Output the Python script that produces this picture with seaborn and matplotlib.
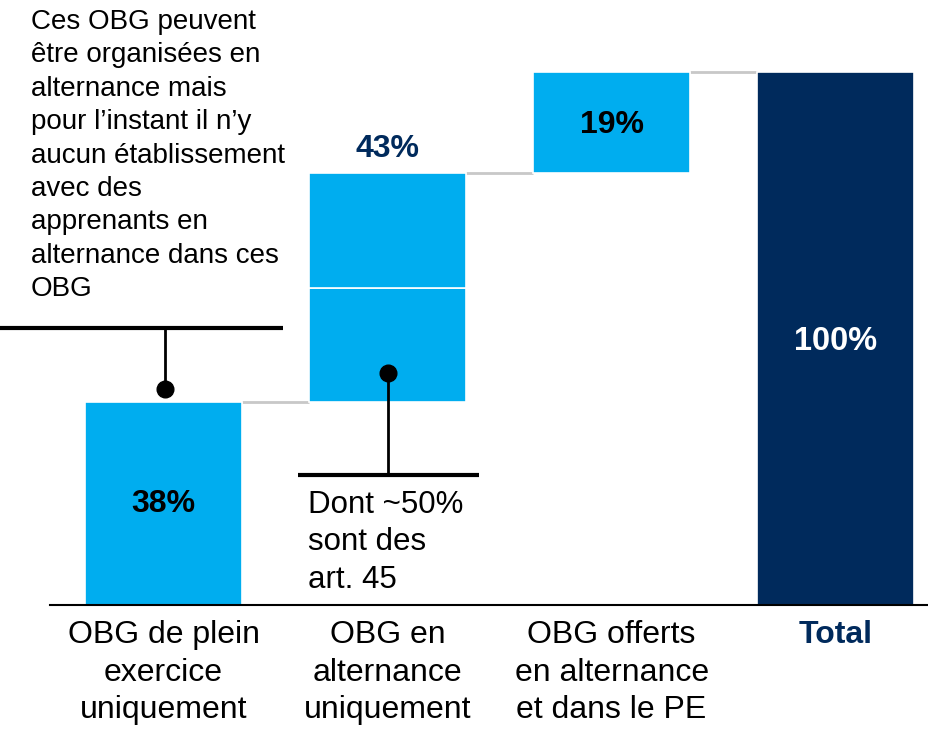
import matplotlib
matplotlib.use("Agg")
import matplotlib.pyplot as plt
import seaborn as sns
import pandas as pd

sns.set_style("white")
plt.rcParams['font.family'] = ['Liberation Sans', 'DejaVu Sans']
plt.rcParams['text.color'] = 'black'
plt.rcParams['xtick.color'] = 'black'

# ---- data ----
categories = ["OBG de plein\nexercice\nuniquement", "OBG en\nalternance\nuniquement",
              "OBG offerts\nen alternance\net dans le PE", "Total"]
values = [38, 43, 19, 100]
value_labels = ["38%", "43%", "19%", "100%"]
split_alternance = 21.5   # lower part of the 43% bar (art. 45 share)
note_left = ("Ces OBG peuvent\nêtre organisées en\nalternance mais\npour l’instant il n’y\n"
             "aucun établissement\navec des\napprenants en\nalternance dans ces\nOBG")
note_mid = "Dont ~50%\nsont des\nart. 45"

light = "#00ADEF"
navy = "#002A5C"
grey = "#C8C8C8"

fig = plt.figure(figsize=(9.29, 7.30), dpi=100)
ax = fig.add_axes([50/929, 1-605/730, 1-50/929, 605/730])

bases = [0, values[0], values[0] + values[1], 0]
segments = [
    (categories[0], values[0], bases[0], light),
    (categories[1], split_alternance, bases[1], light),
    (categories[1], values[1] - split_alternance, bases[1] + split_alternance, light),
    (categories[2], values[2], bases[2], light),
    (categories[3], values[3], bases[3], navy),
]
W = 0.70
for cat, h, b, c in segments:
    df = pd.DataFrame({"cat": [cat], "val": [h]})
    sns.barplot(data=df, x="cat", y="val", order=categories, bottom=b, color=c,
                width=W, saturation=1, edgecolor="white", linewidth=1.2, ax=ax, zorder=2)

# connectors
tops = [bases[i] + values[i] for i in range(3)]
for i, t in enumerate(tops):
    ax.plot([i + W/2, i + 1 - W/2], [t, t], color=grey, lw=2, zorder=1, solid_capstyle="butt")

ax.set_xlim(-0.507, 3.417)
ax.set_ylim(0, 113.5)
ax.set_xlabel("")
ax.set_ylabel("")
ax.set_yticks([])
for s in ["top", "right", "left"]:
    ax.spines[s].set_visible(False)
ax.spines["bottom"].set_color("black")
ax.spines["bottom"].set_linewidth(1.5)
ax.tick_params(axis="x", length=0, pad=11)
ax.set_xticks(range(4))
ax.set_xticklabels(categories, fontsize=23, linespacing=1.33, va="top", color="black")
tl = ax.get_xticklabels()
tl[3].set_fontweight("bold")
tl[3].set_color(navy)

# value labels
fs = 23
ax.text(0, 19, value_labels[0], ha="center", va="center", fontsize=fs, fontweight="bold", color="black")
ax.text(1, 85.5, value_labels[1], ha="center", va="center", fontsize=fs, fontweight="bold", color=navy)
ax.text(2, 90, value_labels[2], ha="center", va="center", fontsize=fs, fontweight="bold", color="black")
ax.text(3, 49.5, value_labels[3], ha="center", va="center", fontsize=fs + 0.5, fontweight="bold", color="white")

# annotation 1
ax.plot([-0.73, 0.533], [52, 52], color="black", lw=3, clip_on=False, zorder=4, solid_capstyle="butt")
ax.plot([0.007, 0.007], [52, 40.5], color="black", lw=2, clip_on=False, zorder=4)
ax.plot([0.007], [40.5], marker="o", ms=12, color="black", clip_on=False, zorder=5)
fig.text(31/929, 1-9/730, note_left, ha="left", va="top", fontsize=20, linespacing=1.37, color="black")

# annotation 2
ax.plot([0.60, 1.41], [24.4, 24.4], color="black", lw=3, clip_on=False, zorder=4, solid_capstyle="butt")
ax.plot([1.004, 1.004], [43.5, 24.4], color="black", lw=2, clip_on=False, zorder=4)
ax.plot([1.004], [43.5], marker="o", ms=12, color="black", clip_on=False, zorder=5)
ax.text(308/929, 1-490/730, note_mid, transform=fig.transFigure, ha="left", va="top",
        fontsize=22.5, linespacing=1.32, color="black")

fig.savefig("out.png", dpi=100)
